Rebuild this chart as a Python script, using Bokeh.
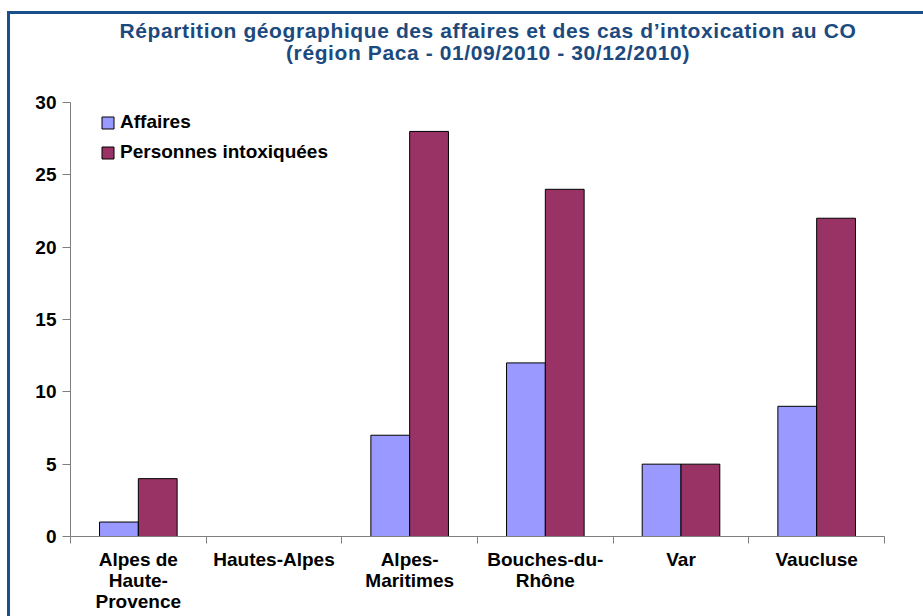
from bokeh.plotting import figure
from bokeh.models import Range1d, FixedTicker, Legend, LegendItem, ColumnDataSource, Div
from bokeh.layouts import column
from bokeh.embed import file_html
from bokeh.resources import INLINE

categories = ["Alpes de\nHaute-\nProvence", "Hautes-Alpes", "Alpes-\nMaritimes",
              "Bouches-du-\nRhône", "Var", "Vaucluse"]
affaires = [1, 0, 7, 12, 5, 9]
personnes = [4, 0, 28, 24, 5, 22]
y_ticks = [0, 5, 10, 15, 20, 25, 30]
title_lines = ["Répartition géographique des affaires et des cas d’intoxication au CO",
               "(région Paca - 01/09/2010 - 30/12/2010)"]

FONT = "Liberation Sans"
BLUE = "#9999FF"
PLUM = "#993366"
TITLE_COLOR = "#1C4A7E"
BORDER = "#18508E"

idx = list(range(len(categories)))
centers = [i + 0.5 for i in idx]
bar_w = 0.286

src = ColumnDataSource(dict(
    xa=[c - bar_w / 2 for c in centers],
    xp=[c + bar_w / 2 for c in centers],
    affaires=affaires,
    personnes=personnes,
))

W = 913
H = 602
DIV_H = 70
title_div = Div(
    text=(f'<div style="display:block;width:{W}px;box-sizing:border-box;padding-left:43px;'
          f'padding-top:6px;font-family:\'{FONT}\';font-weight:bold;font-size:21px;'
          f'letter-spacing:0.6px;line-height:22px;color:{TITLE_COLOR};text-align:center;'
          f'white-space:nowrap;">' + "<br>".join(title_lines) + "</div>"),
    width=W, height=DIV_H, margin=0, styles={"background-color": "white"})

p = figure(width=W, height=H - DIV_H, output_backend="svg", toolbar_location=None,
           x_range=Range1d(0, len(categories)), y_range=Range1d(0, 30),
           min_border_left=60, min_border_right=39, min_border_top=102 - 14 - DIV_H,
           min_border_bottom=80, margin=0)

ra = p.vbar(x="xa", top="affaires", width=bar_w, source=src, fill_color=BLUE,
            line_color="black", line_width=1)
rp = p.vbar(x="xp", top="personnes", width=bar_w, source=src, fill_color=PLUM,
            line_color="black", line_width=1)

p.grid.visible = False
p.outline_line_color = None
p.background_fill_color = "white"
p.border_fill_color = "white"

xa = p.xaxis[0]
xa.ticker = FixedTicker(ticks=centers, minor_ticks=list(range(len(categories) + 1)))
xa.major_label_overrides = {c: lab for c, lab in zip(centers, categories)}
xa.major_tick_line_color = None
xa.minor_tick_in = 0
xa.minor_tick_out = 7
xa.minor_tick_line_color = "#7f7f7f"
xa.axis_line_color = "#7f7f7f"
xa.major_label_text_font = FONT
xa.major_label_text_font_style = "bold"
xa.major_label_text_font_size = "19px"
xa.major_label_text_line_height = 1.0
xa.major_label_text_color = "black"
xa.major_label_standoff = 5

ya = p.yaxis[0]
ya.ticker = FixedTicker(ticks=y_ticks)
ya.minor_tick_line_color = None
ya.major_tick_in = 0
ya.major_tick_out = 8
ya.major_tick_line_color = "#7f7f7f"
ya.axis_line_color = "#7f7f7f"
ya.major_label_text_font = FONT
ya.major_label_text_font_style = "bold"
ya.major_label_text_font_size = "19px"
ya.major_label_text_color = "black"
ya.major_label_standoff = 6

legend = Legend(items=[LegendItem(label="Affaires", renderers=[ra]),
                       LegendItem(label="Personnes intoxiquées", renderers=[rp])],
                location=(30, 373), border_line_color=None, background_fill_alpha=0,
                glyph_width=15, glyph_height=15, label_standoff=5, spacing=8,
                label_text_font=FONT, label_text_font_style="bold",
                label_text_color="black",
                label_text_font_size="19px", padding=10, margin=0)
p.add_layout(legend)

layout = column(title_div, p, spacing=0,
                styles={"margin-left": "7px", "margin-top": "11px",
                        "border-top": f"3px solid {BORDER}", "border-left": f"3px solid {BORDER}",
                        "background-color": "white"})

open("out.html", "w").write(file_html(layout, INLINE))
